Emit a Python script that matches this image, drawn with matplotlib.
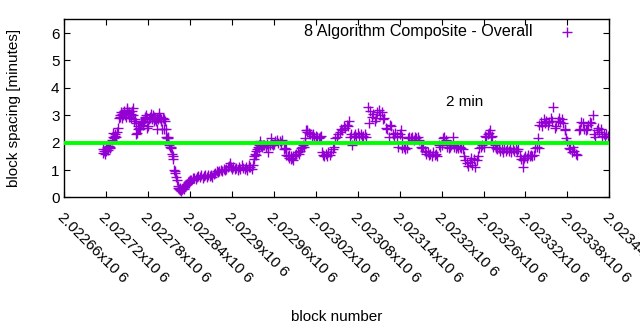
import matplotlib
matplotlib.use("Agg")
import matplotlib.pyplot as plt

plt.rcParams['font.family'] = ['Liberation Sans', 'DejaVu Sans']

blocks = [
 2022715,2022716,2022717,2022718,2022719,2022720,2022721,2022722,2022723,2022724,2022725,2022726,2022728,2022729,2022730,2022731,2022732,2022733,2022734,2022735,
 2022737,2022738,2022739,2022740,2022741,2022742,2022743,2022744,2022745,2022746,2022747,2022748,2022749,2022750,2022751,2022752,2022753,2022754,2022755,2022756,
 2022757,2022758,2022759,2022760,2022761,2022762,2022763,2022764,2022765,2022766,2022767,2022768,2022769,2022770,2022771,2022772,2022773,2022774,2022775,2022776,
 2022777,2022778,2022779,2022780,2022781,2022782,2022783,2022784,2022785,2022786,2022787,2022788,2022789,2022790,2022791,2022792,2022793,2022794,2022795,2022796,
 2022797,2022798,2022799,2022800,2022801,2022802,2022803,2022804,2022805,2022806,2022807,2022808,2022809,2022810,2022811,2022812,2022813,2022814,2022815,2022816,
 2022817,2022818,2022819,2022820,2022821,2022822,2022823,2022824,2022825,2022826,2022827,2022828,2022829,2022830,2022831,2022832,2022833,2022834,2022835,2022836,
 2022837,2022838,2022839,2022840,2022842,2022844,2022846,2022848,2022850,2022852,2022854,2022856,2022858,2022860,2022862,2022864,2022866,2022868,2022870,2022872,
 2022874,2022876,2022878,2022880,2022882,2022884,2022886,2022888,2022890,2022892,2022894,2022896,2022897,2022898,2022900,2022902,2022904,2022906,2022908,2022910,
 2022912,2022914,2022916,2022918,2022920,2022922,2022924,2022925,2022926,2022928,2022930,2022931,2022932,2022933,2022934,2022935,2022936,2022937,2022938,2022939,
 2022940,2022941,2022942,2022943,2022944,2022946,2022948,2022950,2022951,2022952,2022954,2022956,2022957,2022958,2022960,2022962,2022964,2022966,2022968,2022970,
 2022972,2022974,2022976,2022977,2022978,2022980,2022981,2022982,2022984,2022985,2022986,2022987,2022988,2022990,2022992,2022994,2022996,2022998,2022999,2023000,
 2023002,2023003,2023004,2023005,2023006,2023007,2023008,2023010,2023012,2023014,2023016,2023018,2023020,2023022,2023024,2023026,2023028,2023029,2023030,2023032,
 2023034,2023036,2023038,2023040,2023042,2023044,2023046,2023048,2023050,2023052,2023054,2023056,2023058,2023060,2023062,2023064,2023066,2023068,2023069,2023070,
 2023072,2023074,2023076,2023078,2023080,2023082,2023084,2023086,2023088,2023090,2023092,2023094,2023096,2023098,2023100,2023102,2023104,2023106,2023108,2023110,
 2023112,2023114,2023116,2023118,2023120,2023122,2023124,2023126,2023128,2023130,2023132,2023134,2023136,2023138,2023140,2023142,2023143,2023144,2023146,2023148,
 2023150,2023152,2023154,2023156,2023158,2023160,2023162,2023164,2023166,2023168,2023170,2023172,2023174,2023176,2023178,2023180,2023182,2023184,2023186,2023188,
 2023190,2023192,2023194,2023196,2023198,2023200,2023202,2023204,2023206,2023208,2023210,2023212,2023214,2023216,2023218,2023220,2023222,2023224,2023226,2023228,
 2023230,2023232,2023234,2023236,2023238,2023240,2023242,2023244,2023246,2023248,2023250,2023252,2023254,2023256,2023258,2023260,2023262,2023264,2023266,2023268,
 2023269,2023270,2023272,2023274,2023276,2023278,2023280,2023282,2023284,2023286,2023288,2023290,2023292,2023294,2023296,2023298,2023300,2023302,2023304,2023306,
 2023308,2023310,2023312,2023314,2023316,2023317,2023318,2023320,2023322,2023324,2023326,2023328,2023330,2023332,2023334,2023336,2023338,2023339,2023340,2023342,
 2023344,2023346,2023348,2023350,2023352,2023354,2023356,2023358,2023360,2023362,2023364,2023366,2023368,2023370,2023372,2023374,2023376,2023377,2023378,2023380,
 2023382,2023384,2023386,2023388,2023390,2023392,2023394,2023396,2023398,2023400,2023402,2023404,2023406,2023408,2023410,2023412,2023414,2023416,2023418,2023420,
 2023422,2023424,2023426,2023428,2023430,2023432,2023434,2023436,2023438,
]

spacing = [
 1.75,1.62,1.70,1.60,1.78,1.68,1.85,1.80,1.72,1.88,1.80,1.85,2.10,2.20,2.35,2.15,2.30,2.25,2.20,2.40,
 2.52,2.90,3.00,2.95,3.10,3.05,2.90,3.00,3.15,3.10,3.00,2.95,3.20,3.25,3.05,2.95,3.10,3.00,2.90,3.05,
 3.15,3.00,3.25,2.78,2.85,2.70,2.30,2.35,2.50,2.60,2.55,2.60,2.50,2.70,2.75,2.80,2.65,2.80,2.90,2.95,
 3.00,2.90,2.55,2.60,2.85,2.95,2.90,3.05,2.85,2.90,3.00,2.95,2.80,2.85,2.78,2.50,2.90,2.85,2.95,3.07,
 2.90,2.80,2.85,2.50,2.90,2.85,2.50,2.80,2.50,2.20,2.18,2.20,2.15,1.90,1.85,1.80,1.85,1.60,1.50,1.40,
 1.00,0.95,0.90,0.75,0.65,0.40,0.35,0.30,0.28,0.35,0.25,0.30,0.32,0.35,0.30,0.38,0.42,0.45,0.50,0.48,
 0.55,0.52,0.60,0.62,0.65,0.70,0.72,0.68,0.75,0.78,0.75,0.80,0.72,0.78,0.80,0.75,0.82,0.78,0.80,0.75,
 0.85,0.90,0.95,0.92,0.98,1.00,0.95,1.02,1.00,1.05,1.10,1.15,1.25,1.10,1.05,1.10,1.05,1.08,1.00,1.10,
 1.05,1.20,1.08,1.05,1.10,1.00,1.12,1.18,1.10,1.05,1.20,1.40,1.50,1.60,1.55,1.70,1.75,1.85,1.82,1.90,
 2.05,1.88,1.90,1.85,1.92,1.90,1.85,1.95,1.65,1.85,1.90,2.15,1.95,1.90,1.95,2.05,2.10,2.00,2.05,2.00,
 2.10,1.75,1.80,1.75,1.55,1.50,1.45,1.55,1.40,1.50,1.45,1.35,1.50,1.55,1.60,1.65,1.60,1.70,1.80,1.85,
 1.90,1.85,2.00,2.15,2.45,2.40,2.45,2.35,2.30,2.25,2.30,2.20,2.25,2.20,2.18,2.20,2.25,1.65,1.55,1.50,
 1.60,1.50,1.65,1.55,1.65,1.75,1.85,2.15,2.20,2.30,2.40,2.50,2.45,2.60,2.55,2.65,2.60,2.80,2.20,2.30,
 1.90,2.25,2.30,2.20,2.35,2.25,2.30,2.20,2.25,2.30,2.20,3.30,2.70,3.15,2.95,3.05,2.80,2.90,3.10,3.20,
 3.00,3.10,2.85,2.90,2.55,2.50,2.20,2.65,2.60,2.30,2.20,2.35,2.25,1.85,2.30,2.45,2.20,1.80,1.85,1.75,
 1.82,2.15,2.20,2.15,2.20,2.10,2.20,2.15,2.20,2.10,1.85,1.80,1.85,1.70,1.60,1.65,1.55,1.60,1.50,1.65,
 1.55,1.60,1.50,1.90,1.85,1.90,2.15,2.20,2.10,1.85,1.80,1.85,1.90,2.20,1.85,1.80,1.88,1.80,1.85,1.80,
 1.75,1.50,1.35,1.25,1.15,1.30,1.45,1.20,1.40,1.10,1.35,1.50,1.80,1.85,1.90,1.85,2.25,2.20,2.30,2.35,
 2.45,2.20,2.25,1.85,1.90,1.80,1.75,1.80,1.70,1.75,1.65,1.80,1.70,1.75,1.70,1.80,1.65,1.75,1.70,1.78,
 1.70,1.75,1.50,1.40,1.35,1.12,1.45,1.50,1.45,1.55,1.50,1.55,1.50,1.55,1.80,1.85,2.15,1.80,2.65,2.75,
 2.60,2.85,2.70,2.80,2.65,2.75,2.90,2.80,3.30,2.55,2.60,2.80,2.90,2.75,2.85,2.70,2.50,2.45,2.15,2.05,
 1.80,1.75,1.65,1.85,1.70,1.60,1.55,2.45,2.50,2.75,2.70,2.50,2.45,2.50,2.65,2.75,2.70,3.00,2.30,2.20,
 2.45,2.55,2.40,2.50,2.25,2.30,2.20,2.30,2.25,
]

target = 2
series_label = "8 Algorithm Composite - Overall"
target_label = "2 min"
label_pos = (2023206, 3.49)

x_ticks = [2022660, 2022720, 2022780, 2022840, 2022900, 2022960, 2023020,
           2023080, 2023140, 2023200, 2023260, 2023320, 2023380, 2023440]
x_tick_labels = ["2.02266x10 6", "2.02272x10 6", "2.02278x10 6", "2.02284x10 6",
                 "2.0229x10 6", "2.02296x10 6", "2.02302x10 6", "2.02308x10 6",
                 "2.02314x10 6", "2.0232x10 6", "2.02326x10 6", "2.02332x10 6",
                 "2.02338x10 6", "2.02344x10 6"]
y_ticks = [0, 1, 2, 3, 4, 5, 6]

purple = '#9400D3'
green = '#00FF00'
fs = 11

fig = plt.figure(figsize=(6.4, 3.3), dpi=100)
ax = fig.add_axes([0.1005, 0.4018, 0.8515, 0.5397])

ax.plot(blocks, spacing, linestyle='none', marker='+', color=purple,
        markersize=7, markeredgewidth=1.0, zorder=2)
ax.axhline(target, color=green, linewidth=2.8, zorder=3)

ax.set_xlim(x_ticks[0], x_ticks[-1])
ax.set_ylim(0, 6.5)
ax.set_xticks(x_ticks)
ax.set_xticklabels(x_tick_labels, rotation=-45, ha='left', va='top',
                   rotation_mode='anchor', fontsize=fs)
ax.set_yticks(y_ticks)
ax.set_yticklabels([str(v) for v in y_ticks], fontsize=fs)
ax.tick_params(direction='in', top=True, right=True, length=4, width=0.8,
               colors='black')
ax.tick_params(axis='x', pad=9)
for s in ax.spines.values():
    s.set_linewidth(1.0)

ax.set_xlabel("block number", fontsize=fs)
ax.xaxis.set_label_coords(0.5, -0.63)
ax.set_ylabel("block spacing [minutes]", fontsize=fs)
ax.yaxis.set_label_coords(-0.08, 0.5)

ax.text(label_pos[0], label_pos[1], target_label, fontsize=fs, ha='left', va='center')

# key (legend) at the top right
ax.text(0.860, 0.929, series_label, transform=ax.transAxes, fontsize=11.6,
        ha='right', va='center')
ax.plot([0.922], [0.929], transform=ax.transAxes, marker='+', color=purple,
        markersize=7, markeredgewidth=1.0, linestyle='none', clip_on=False)

fig.savefig("out.png", dpi=100)
